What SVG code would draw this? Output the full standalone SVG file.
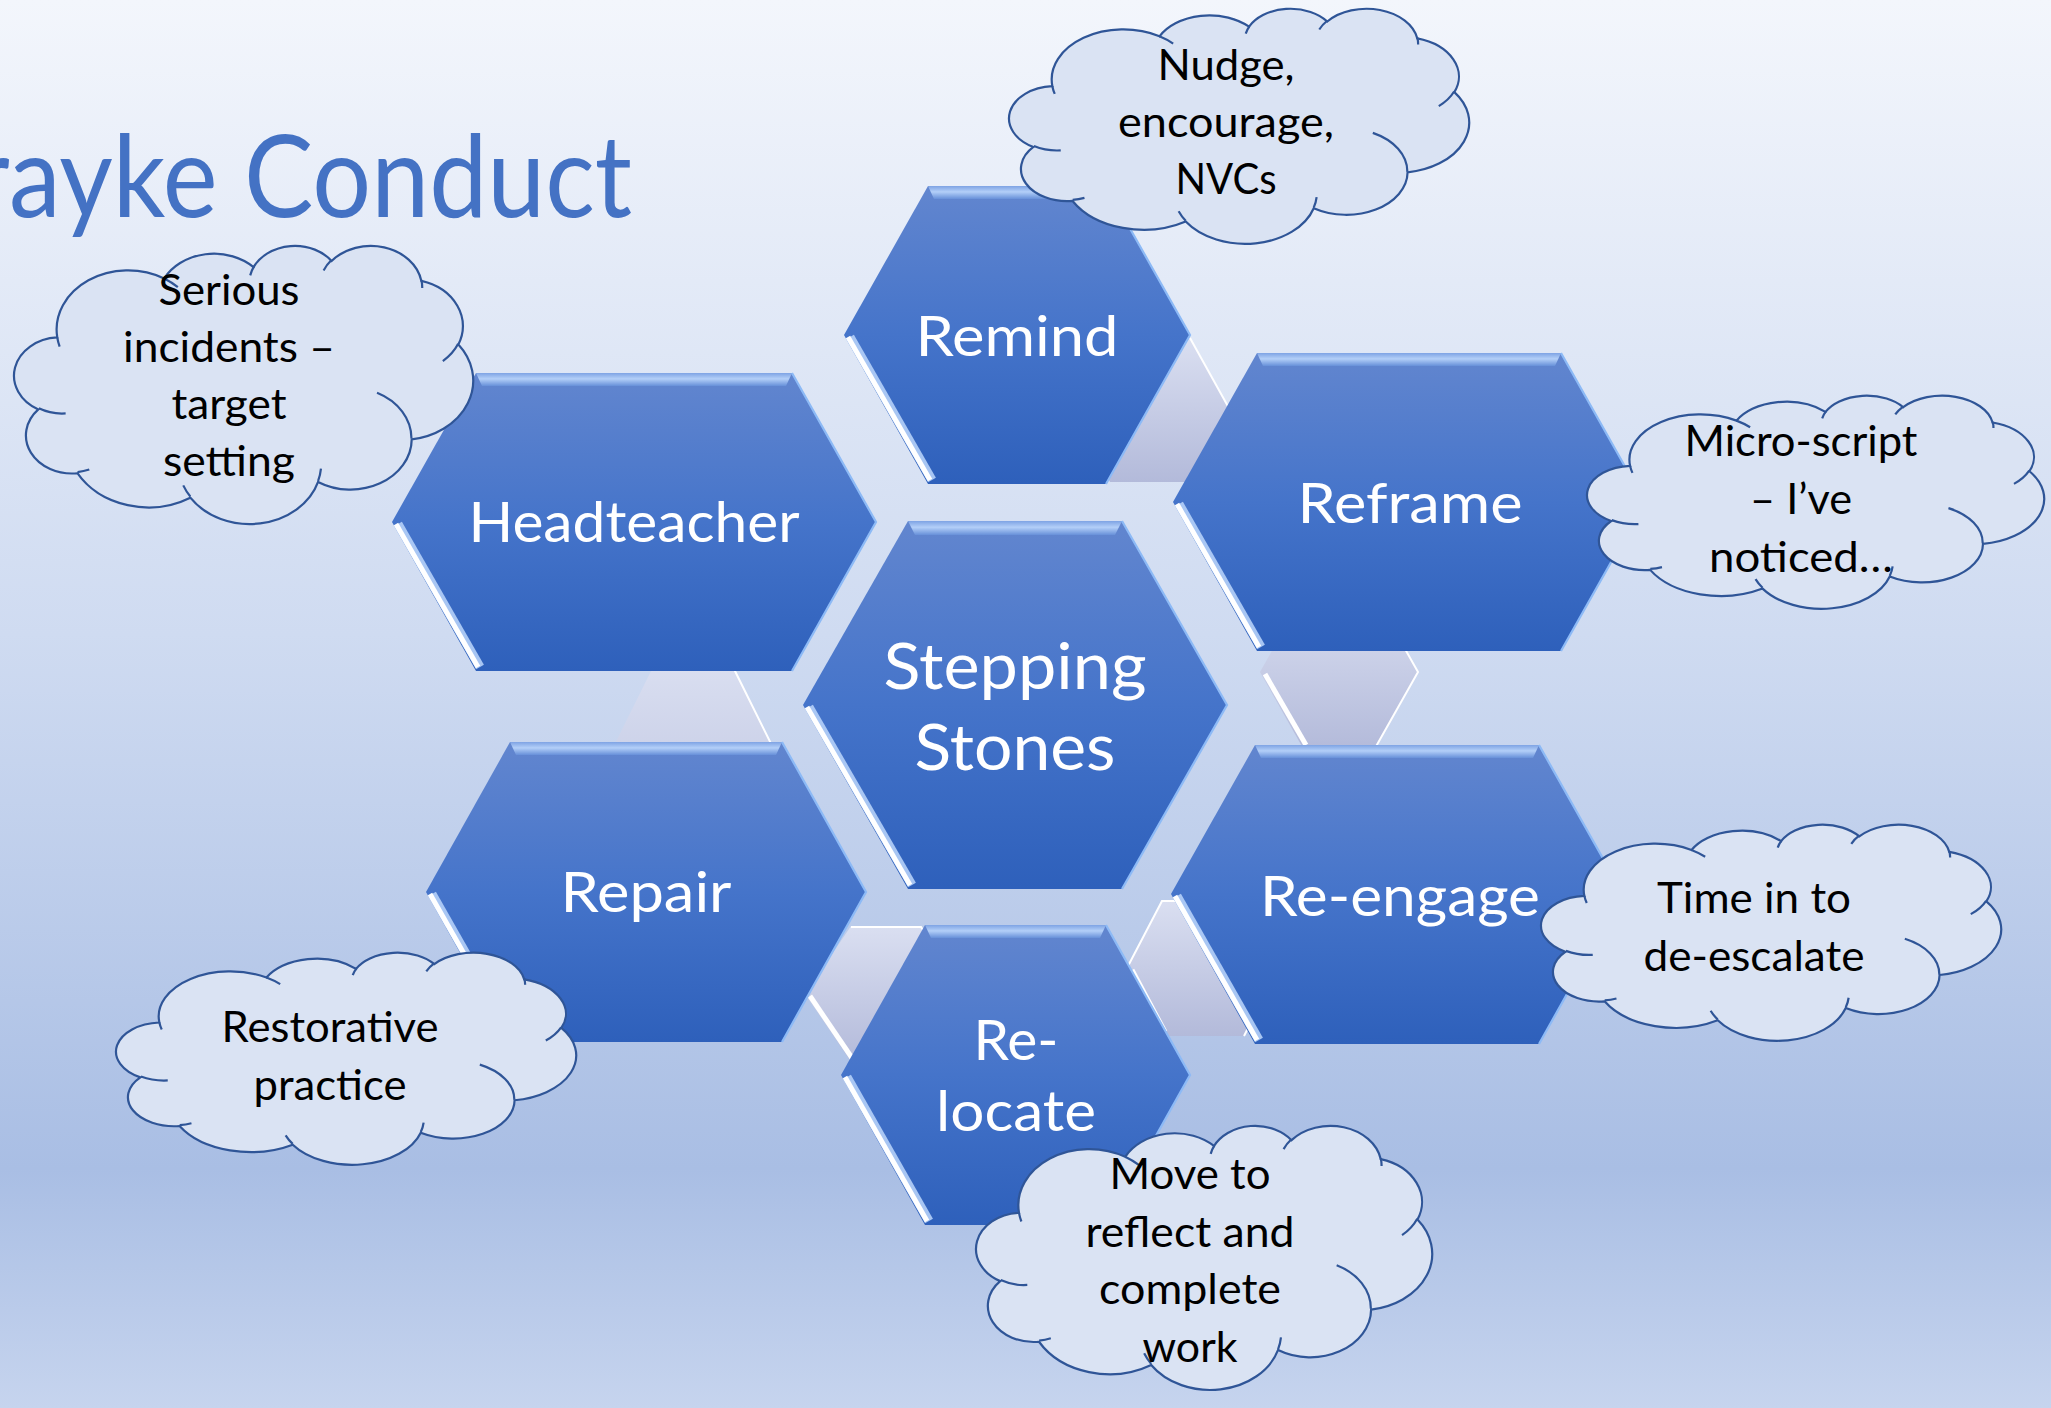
<svg xmlns="http://www.w3.org/2000/svg" width="2051" height="1408" viewBox="0 0 2051 1408">
<defs>
<linearGradient id="bg" x1="0" y1="0" x2="0" y2="1">
<stop offset="0" stop-color="#f3f6fc"/>
<stop offset="0.45" stop-color="#cfdbf1"/>
<stop offset="0.83" stop-color="#a9bee4"/>
<stop offset="1" stop-color="#c6d4ee"/>
</linearGradient>
<linearGradient id="hexFill" x1="0" y1="0" x2="0" y2="1">
<stop offset="0" stop-color="#6286cf"/>
<stop offset="0.5" stop-color="#4574ca"/>
<stop offset="1" stop-color="#2e60bb"/>
</linearGradient>
<linearGradient id="bandFill" x1="0" y1="0" x2="0" y2="1">
<stop offset="0" stop-color="#7ea3e4"/>
<stop offset="0.45" stop-color="#b3cff8"/>
<stop offset="1" stop-color="#6790d9"/>
</linearGradient>
<linearGradient id="connFill" x1="0" y1="0" x2="0" y2="1">
<stop offset="0" stop-color="#dadff1"/>
<stop offset="1" stop-color="#b3bada"/>
</linearGradient>
<path id="cloudShape" vector-effect="non-scaling-stroke" d="M9.03,33.26 A15.63,21.27 0 0 1 32.42,12.04 A12.35,16.82 0 0 1 51.98,7.95 A10.10,13.76 0 0 1 69.06,5.74 A11.24,15.27 0 0 1 88.70,12.91 A12.35,16.84 0 0 1 96.80,35.79 A15.68,21.34 0 0 1 86.59,69.92 A13.39,18.21 0 0 1 66.10,85.22 A15.63,21.33 0 0 1 38.15,90.89 A17.87,24.41 0 0 1 13.44,82.10 A10.09,13.70 0 0 1 4.89,59.14 A10.06,13.76 0 0 1 9.03,33.26 Z"/>
<path id="cloudTucks" vector-effect="non-scaling-stroke" d="M10.86,60.59 A10.06,13.76 0 0 1 5.00,58.75 M16.04,80.78 A10.09,13.70 0 0 1 13.47,81.67 M38.14,90.49 A15.63,21.33 0 0 1 36.60,86.46 M66.73,80.44 A15.63,21.33 0 0 1 66.11,84.86 M79.00,53.13 A13.39,18.21 0 0 1 86.53,69.65 M96.75,35.54 A12.35,16.84 0 0 1 93.40,41.74 M88.71,12.56 A11.24,15.27 0 0 1 88.89,15.49 M67.31,9.15 A11.24,15.27 0 0 1 69.03,5.42 M51.25,10.93 A10.10,13.76 0 0 1 52.08,7.71 M32.41,12.02 A15.63,21.27 0 0 1 35.41,15.14 M9.55,36.55 A15.63,21.27 0 0 1 9.03,33.27"/>
</defs>
<style>
.hex{fill:url(#hexFill)}
.band{fill:url(#bandFill)}
.rim{fill:none;stroke:#8dbaf6;stroke-width:2.2}
.glow{stroke:#b5d0f8;stroke-width:9;stroke-opacity:0.9}
.shine{stroke:#ffffff;stroke-width:5}
.lbl{font-family:Lato,"Open Sans","Liberation Sans",sans-serif;fill:#ffffff;text-anchor:middle;font-size:56px}
.big{font-size:63px}
.conn{fill:url(#connFill)}
.connRim{fill:none;stroke:#ffffff;stroke-width:2}
.connShine{stroke:#ffffff;stroke-width:5}
.cloud{fill:#dae3f3;stroke:#2f5597;stroke-width:2.2}
.tuck{fill:none;stroke:#2f5597;stroke-width:2.2}
.note{font-family:Lato,"Open Sans","Liberation Sans",sans-serif;font-size:42px;fill:#000000;text-anchor:middle}
.title{font-family:Lato,"Open Sans","Liberation Sans",sans-serif;font-weight:400;font-size:114px;fill:#4472c4}
</style>
<rect x="0" y="0" width="2051" height="1408" fill="url(#bg)"/>
<text class="title" x="-28" y="217" textLength="660" lengthAdjust="spacingAndGlyphs">rayke Conduct</text>

<g id="connectors">
<g id="conn-remind-reframe">
<polygon class="conn" points="1110,338 1190,338 1230,410 1190,482 1110,482 1070,410"/>
<polyline class="connRim" points="1190,338 1230,410 1190,482"/>
</g>
<g id="conn-headteacher-repair">
<polygon class="conn" points="656,661 730,661 794,790 730,919 656,919 592,790"/>
<polyline class="connRim" points="730,661 794,790 730,919"/>
</g>
<g id="conn-reframe-reengage">
<polygon class="conn" points="1304,594 1374,594 1418,672 1374,750 1304,750 1260,672"/>
<polyline class="connRim" points="1374,594 1418,672 1374,750"/>
<line class="connShine" x1="1265" y1="674" x2="1306" y2="745"/>
</g>
<g id="conn-repair-relocate">
<polygon class="conn" points="851,926 921,926 967,994 921,1062 851,1062 805,994"/>
<polyline class="connRim" points="851,927 921,927 967,994 921,1062"/>
<line class="connShine" x1="810" y1="996" x2="852" y2="1058"/>
</g>
<g id="conn-relocate-reengage">
<polygon class="conn" points="1162,900 1244,900 1279,968 1244,1036 1162,1036 1127,968"/>
<polyline class="connRim" points="1127,968 1162,901 1244,901 1279,968 1244,1036"/>
<line class="connShine" x1="1132" y1="970" x2="1165" y2="1032"/>
</g>
</g>

<g id="node-remind">
<polygon class="hex" points="928,186 1106,186 1190,335 1106,484 928,484 844,335"/>
<polygon class="band" points="928,186 1106,186 1100,199 934,199"/>
<line class="glow" x1="850" y1="337" x2="932" y2="480"/>
<line class="shine" x1="848" y1="337" x2="930" y2="480"/>
<polyline class="rim" points="1106,186 1190,335 1106,484"/>
<text class="lbl" x="1017" y="356" textLength="203" lengthAdjust="spacingAndGlyphs">Remind</text>
</g>
<g id="node-headteacher">
<polygon class="hex" points="476,373 792,373 876,522 792,671 476,671 392,522"/>
<polygon class="band" points="476,373 792,373 786,386 482,386"/>
<line class="glow" x1="398" y1="524" x2="480" y2="667"/>
<line class="shine" x1="396" y1="524" x2="478" y2="667"/>
<polyline class="rim" points="792,373 876,522 792,671"/>
<text class="lbl" x="634" y="542" textLength="331" lengthAdjust="spacingAndGlyphs">Headteacher</text>
</g>
<g id="node-reframe">
<polygon class="hex" points="1257,353 1561,353 1645,502 1561,651 1257,651 1173,502"/>
<polygon class="band" points="1257,353 1561,353 1555,366 1263,366"/>
<line class="glow" x1="1179" y1="504" x2="1261" y2="647"/>
<line class="shine" x1="1177" y1="504" x2="1259" y2="647"/>
<polyline class="rim" points="1561,353 1645,502 1561,651"/>
<text class="lbl" x="1410" y="523" textLength="225" lengthAdjust="spacingAndGlyphs">Reframe</text>
</g>
<g id="node-stepping-stones">
<polygon class="hex" points="908,521 1122,521 1227,705 1122,889 908,889 803,705"/>
<polygon class="band" points="908,521 1122,521 1115,535 915,535"/>
<line class="glow" x1="809" y1="707" x2="912" y2="885"/>
<line class="shine" x1="807" y1="707" x2="910" y2="885"/>
<polyline class="rim" points="1122,521 1227,705 1122,889"/>
<text class="lbl big" x="1015" y="689" textLength="263" lengthAdjust="spacingAndGlyphs">Stepping</text>
<text class="lbl big" x="1015" y="770" textLength="201" lengthAdjust="spacingAndGlyphs">Stones</text>
</g>
<g id="node-repair">
<polygon class="hex" points="510,742 782,742 866,892 782,1042 510,1042 426,892"/>
<polygon class="band" points="510,742 782,742 776,755 516,755"/>
<line class="glow" x1="432" y1="894" x2="514" y2="1038"/>
<line class="shine" x1="430" y1="894" x2="512" y2="1038"/>
<polyline class="rim" points="782,742 866,892 782,1042"/>
<text class="lbl" x="646" y="912" textLength="171" lengthAdjust="spacingAndGlyphs">Repair</text>
</g>
<g id="node-reengage">
<polygon class="hex" points="1255,745 1539,745 1623,894 1539,1044 1255,1044 1171,894"/>
<polygon class="band" points="1255,745 1539,745 1533,758 1261,758"/>
<line class="glow" x1="1177" y1="896" x2="1259" y2="1040"/>
<line class="shine" x1="1175" y1="896" x2="1257" y2="1040"/>
<polyline class="rim" points="1539,745 1623,894 1539,1044"/>
<text class="lbl" x="1400" y="916" textLength="280" lengthAdjust="spacingAndGlyphs">Re-engage</text>
</g>
<g id="node-relocate">
<polygon class="hex" points="925,925 1106,925 1190,1075 1106,1225 925,1225 841,1075"/>
<polygon class="band" points="925,925 1106,925 1100,938 931,938"/>
<line class="glow" x1="847" y1="1077" x2="929" y2="1221"/>
<line class="shine" x1="845" y1="1077" x2="927" y2="1221"/>
<polyline class="rim" points="1106,925 1190,1075 1106,1225"/>
<text class="lbl" x="1016" y="1060" textLength="85" lengthAdjust="spacingAndGlyphs">Re-</text>
<text class="lbl" x="1016" y="1131" textLength="160" lengthAdjust="spacingAndGlyphs">locate</text>
</g>

<g id="note-nudge">
<g transform="translate(1011,8) scale(4.58,2.35)"><use href="#cloudShape" class="cloud"/><use href="#cloudTucks" class="tuck"/></g>
<text class="note" x="1226" y="80" textLength="137" lengthAdjust="spacingAndGlyphs">Nudge,</text>
<text class="note" x="1226" y="137" textLength="216" lengthAdjust="spacingAndGlyphs">encourage,</text>
<text class="note" x="1226" y="194" textLength="101" lengthAdjust="spacingAndGlyphs">NVCs</text>
</g>
<g id="note-serious">
<g transform="translate(16,245) scale(4.57,2.78)"><use href="#cloudShape" class="cloud"/><use href="#cloudTucks" class="tuck"/></g>
<text class="note" x="229" y="305" textLength="141" lengthAdjust="spacingAndGlyphs">Serious</text>
<text class="note" x="229" y="362" textLength="212" lengthAdjust="spacingAndGlyphs">incidents –</text>
<text class="note" x="229" y="419" textLength="115" lengthAdjust="spacingAndGlyphs">target</text>
<text class="note" x="229" y="476" textLength="132" lengthAdjust="spacingAndGlyphs">setting</text>
</g>
<g id="note-microscript">
<g transform="translate(1589,395) scale(4.55,2.13)"><use href="#cloudShape" class="cloud"/><use href="#cloudTucks" class="tuck"/></g>
<text class="note" x="1801" y="456" textLength="233" lengthAdjust="spacingAndGlyphs">Micro-script</text>
<text class="note" x="1801" y="514" textLength="102" lengthAdjust="spacingAndGlyphs">– I’ve</text>
<text class="note" x="1801" y="572" textLength="184" lengthAdjust="spacingAndGlyphs">noticed…</text>
</g>
<g id="note-timein">
<g transform="translate(1543,824) scale(4.58,2.16)"><use href="#cloudShape" class="cloud"/><use href="#cloudTucks" class="tuck"/></g>
<text class="note" x="1754" y="913" textLength="194" lengthAdjust="spacingAndGlyphs">Time in to</text>
<text class="note" x="1754" y="971" textLength="221" lengthAdjust="spacingAndGlyphs">de-escalate</text>
</g>
<g id="note-restorative">
<g transform="translate(118,952) scale(4.58,2.12)"><use href="#cloudShape" class="cloud"/><use href="#cloudTucks" class="tuck"/></g>
<text class="note" x="330" y="1042" textLength="217" lengthAdjust="spacingAndGlyphs">Restorative</text>
<text class="note" x="330" y="1100" textLength="153" lengthAdjust="spacingAndGlyphs">practice</text>
</g>
<g id="note-move">
<g transform="translate(978,1125) scale(4.54,2.64)"><use href="#cloudShape" class="cloud"/><use href="#cloudTucks" class="tuck"/></g>
<text class="note" x="1190" y="1189" textLength="161" lengthAdjust="spacingAndGlyphs">Move to</text>
<text class="note" x="1190" y="1247" textLength="209" lengthAdjust="spacingAndGlyphs">reflect and</text>
<text class="note" x="1190" y="1304" textLength="182" lengthAdjust="spacingAndGlyphs">complete</text>
<text class="note" x="1190" y="1362" textLength="95" lengthAdjust="spacingAndGlyphs">work</text>
</g>
</svg>
